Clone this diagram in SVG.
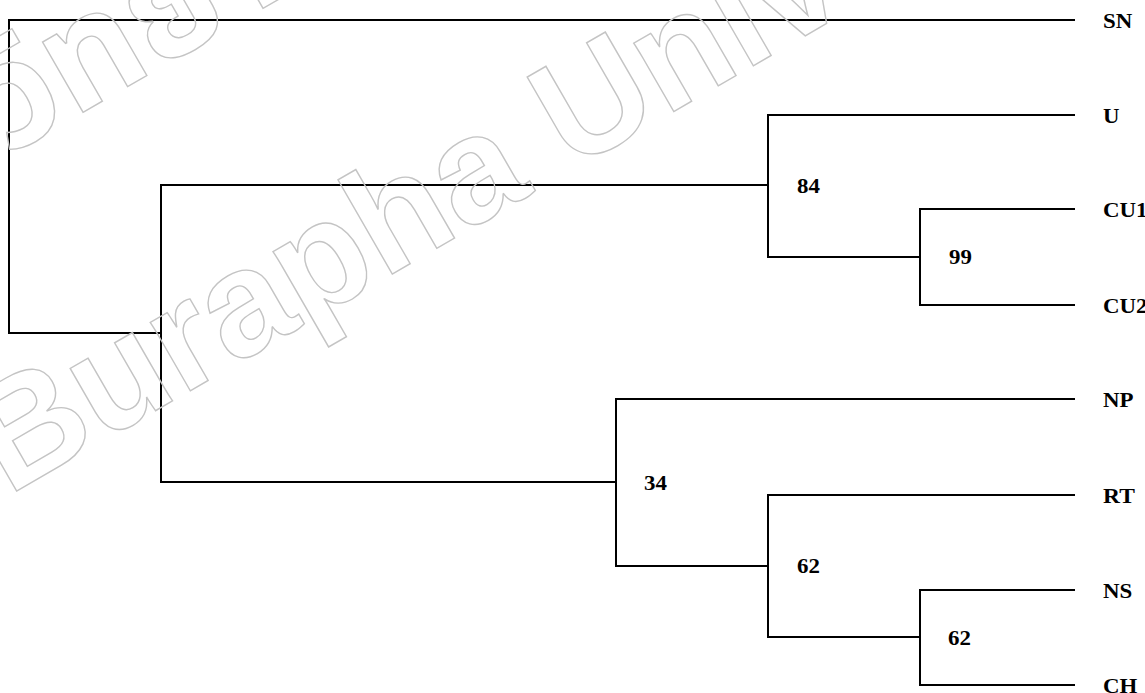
<svg xmlns="http://www.w3.org/2000/svg" width="1145" height="693" viewBox="0 0 1145 693">
<style>
.br{fill:none;stroke:#000;stroke-width:2;stroke-linecap:square}
.lab{font-family:"Liberation Serif","Times New Roman",serif;font-weight:bold;font-size:21px;fill:#000}
.wm{font-family:"Liberation Sans",Arial,sans-serif;font-weight:bold;font-size:150px;fill:none;stroke:#c4c4c4;stroke-width:1.4}
.wmt{font-family:"Noto Sans Thai","Noto Sans","DejaVu Sans",sans-serif;font-weight:bold;font-size:148px;fill:none;stroke:#c4c4c4;stroke-width:1.4}
</style>
<rect width="1145" height="693" fill="#fff"/>
<g id="connectors">
<path class="br" d="M1074,20 H9 V333 H161"/>
<path class="br" d="M768,185 H161 V482 H616"/>
<path class="br" d="M1074,115 H768 V257 H920"/>
<path class="br" d="M1074,209 H920 V305 H1074"/>
<path class="br" d="M1074,399 H616 V566 H768"/>
<path class="br" d="M1074,495 H768 V637 H920"/>
<path class="br" d="M1074,590 H920 V685 H1074"/>
</g>
<g id="node-SN"><text class="lab" x="1103" y="28" textLength="29.3" lengthAdjust="spacingAndGlyphs">SN</text></g>
<g id="node-U"><text class="lab" x="1103" y="123" textLength="16.5" lengthAdjust="spacingAndGlyphs">U</text></g>
<g id="node-CU1"><text class="lab" x="1103" y="217" textLength="44.5" lengthAdjust="spacingAndGlyphs">CU1</text></g>
<g id="node-CU2"><text class="lab" x="1103" y="313" textLength="44.5" lengthAdjust="spacingAndGlyphs">CU2</text></g>
<g id="node-NP"><text class="lab" x="1103" y="407" textLength="30.5" lengthAdjust="spacingAndGlyphs">NP</text></g>
<g id="node-RT"><text class="lab" x="1103" y="503" textLength="31.8" lengthAdjust="spacingAndGlyphs">RT</text></g>
<g id="node-NS"><text class="lab" x="1103" y="598" textLength="29.3" lengthAdjust="spacingAndGlyphs">NS</text></g>
<g id="node-CH"><text class="lab" x="1103" y="693" textLength="34.3" lengthAdjust="spacingAndGlyphs">CH</text></g>
<g id="node-84"><text class="lab" x="797" y="193" textLength="22.9" lengthAdjust="spacingAndGlyphs">84</text></g>
<g id="node-99"><text class="lab" x="949" y="264" textLength="22.9" lengthAdjust="spacingAndGlyphs">99</text></g>
<g id="node-34"><text class="lab" x="644" y="490" textLength="22.9" lengthAdjust="spacingAndGlyphs">34</text></g>
<g id="node-62a"><text class="lab" x="797" y="573" textLength="22.9" lengthAdjust="spacingAndGlyphs">62</text></g>
<g id="node-62b"><text class="lab" x="948" y="645" textLength="22.9" lengthAdjust="spacingAndGlyphs">62</text></g>
<g id="watermark">
<text class="wm" transform="translate(8,496) rotate(-30)">Burapha University</text>
<text class="wmt" transform="translate(-211,282) rotate(-30)">มหาวิทยาลัยบูรพา</text>
</g>
</svg>
